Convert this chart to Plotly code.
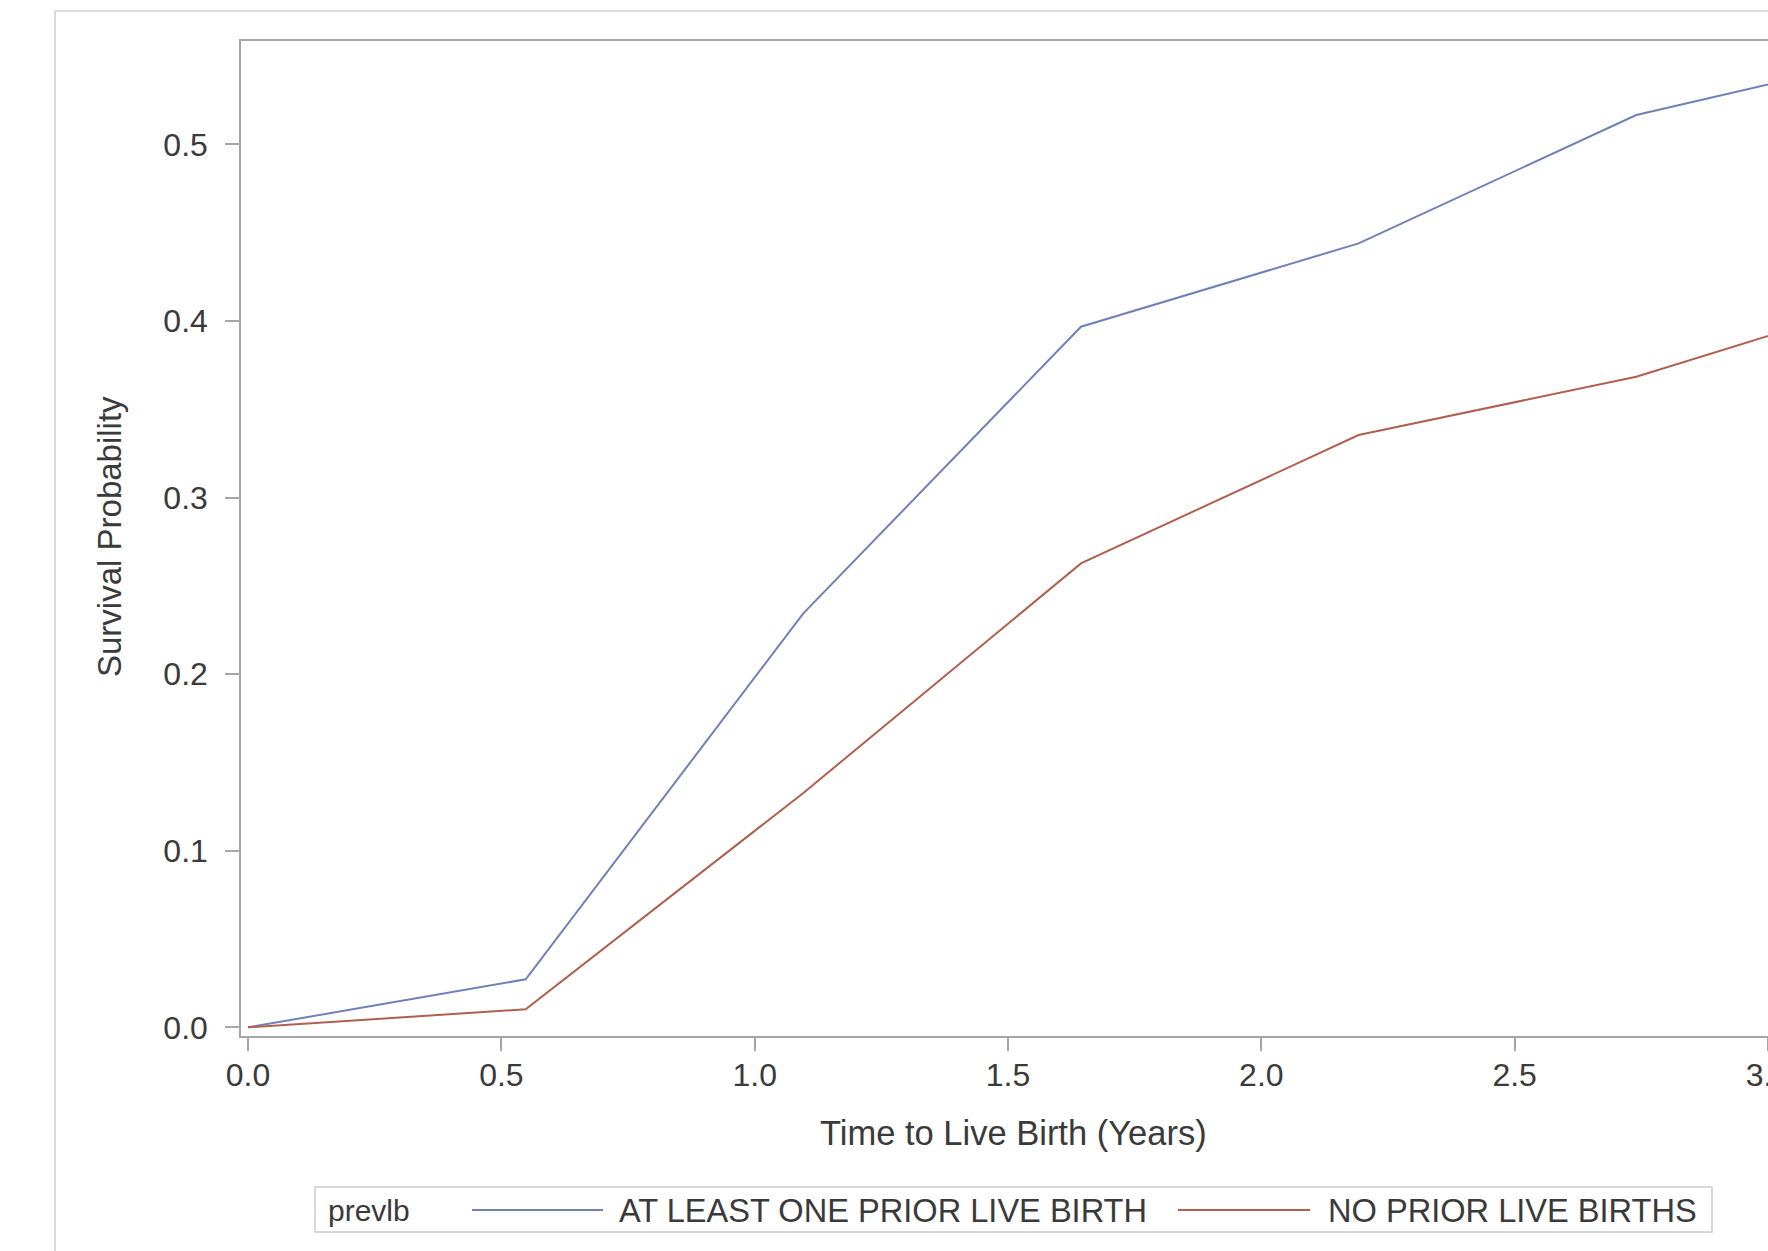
import plotly.graph_objects as go

# ---- data ----
time_years = [0.0, 0.548, 1.096, 1.644, 2.192, 2.740, 3.288]
at_least_one = [0.0, 0.0272, 0.2344, 0.3967, 0.4439, 0.5166, 0.553]
no_prior = [0.0, 0.0102, 0.1327, 0.2627, 0.3354, 0.3684, 0.417]
series_names = ["AT LEAST ONE PRIOR LIVE BIRTH", "NO PRIOR LIVE BIRTHS"]
legend_title = "prevlb"
x_title = "Time to Live Birth (Years)"
y_title = "Survival Probability"
x_ticks = [0.0, 0.5, 1.0, 1.5, 2.0, 2.5, 3.0]
y_ticks = [0.0, 0.1, 0.2, 0.3, 0.4, 0.5]

# ---- layout geometry (pixels) ----
W, H = 1768, 1251
L, R, T, B = 241, 0, 41, 215
PW, PH = W - L - R, H - T - B

def px(xp):
    return (xp - L) / PW

def py(yp):
    return (H - B - yp) / PH

FONT = "Liberation Sans, Arial, sans-serif"
TXT = "#3A3A3A"
AX = "#A6A6A6"
colors = ["#7280B8", "#B0604F"]

fig = go.Figure()
for name, vals, c in zip(series_names, [at_least_one, no_prior], colors):
    fig.add_trace(go.Scatter(x=time_years, y=vals, mode="lines", name=name,
                             line=dict(color=c, width=2), showlegend=False))

fig.update_layout(
    width=W, height=H, margin=dict(l=L, r=R, t=T, b=B, pad=0),
    paper_bgcolor="white", plot_bgcolor="white",
    font=dict(family=FONT, size=32, color=TXT),
    template="none",
)
fig.update_xaxes(range=[-0.0139, 3.0], tickvals=x_ticks, ticktext=[f"{v:.1f}" for v in x_ticks],
                 showgrid=False, zeroline=False, showline=True, linecolor=AX, linewidth=1.5,
                 mirror=True, ticks="outside", ticklen=13, tickwidth=1.5, tickcolor=AX,
                 tickfont=dict(size=32, color=TXT, family=FONT), ticklabelstandoff=-3,
                 ticklabeloverflow="allow", automargin=False)
fig.update_yaxes(range=[-0.0049, 0.5585], tickvals=y_ticks, ticktext=[f"{v:.1f}" for v in y_ticks],
                 showgrid=False, zeroline=False, showline=True, linecolor=AX, linewidth=1.5,
                 mirror=False, ticks="outside", ticklen=14, tickwidth=1.5, tickcolor=AX,
                 tickfont=dict(size=32, color=TXT, family=FONT), ticklabelstandoff=11,
                 automargin=False)

shapes = []
# outer frame (only left/top visible)
shapes.append(dict(type="rect", xref="paper", yref="paper", x0=px(55), x1=1.3, y0=py(11), y1=-0.5,
                   line=dict(color="#CFCFCF", width=1.5), fillcolor="rgba(0,0,0,0)", layer="below"))
# legend box
shapes.append(dict(type="rect", xref="paper", yref="paper", x0=px(315), x1=px(1712), y0=py(1187), y1=py(1232),
                   line=dict(color="#CCCCCC", width=1.5), fillcolor="white"))
legend_y = py(1210)
samples = [(472, 603), (1178, 1310)]
for (a, b), c in zip(samples, colors):
    shapes.append(dict(type="line", xref="paper", yref="paper", x0=px(a), x1=px(b), y0=legend_y, y1=legend_y,
                       line=dict(color=c, width=2)))
fig.update_layout(shapes=shapes)

ann = []
ann.append(dict(text=legend_title, xref="paper", yref="paper", x=px(326), y=legend_y,
                xanchor="left", yanchor="middle", showarrow=False, font=dict(size=30, color=TXT, family=FONT)))
for name, xl in zip(series_names, [617, 1326]):
    ann.append(dict(text=name, xref="paper", yref="paper", x=px(xl), y=legend_y,
                    xanchor="left", yanchor="middle", showarrow=False, font=dict(size=32.6, color=TXT, family=FONT)))
ann.append(dict(text=x_title, xref="paper", yref="paper", x=px(1013), y=py(1133),
                xanchor="center", yanchor="middle", showarrow=False, font=dict(size=34.5, color=TXT, family=FONT)))
ann.append(dict(text=y_title, xref="paper", yref="paper", x=px(109), y=py(537), textangle=-90,
                xanchor="center", yanchor="middle", showarrow=False, font=dict(size=33, color=TXT, family=FONT)))
fig.update_layout(annotations=ann)

fig.write_html("out.html")
